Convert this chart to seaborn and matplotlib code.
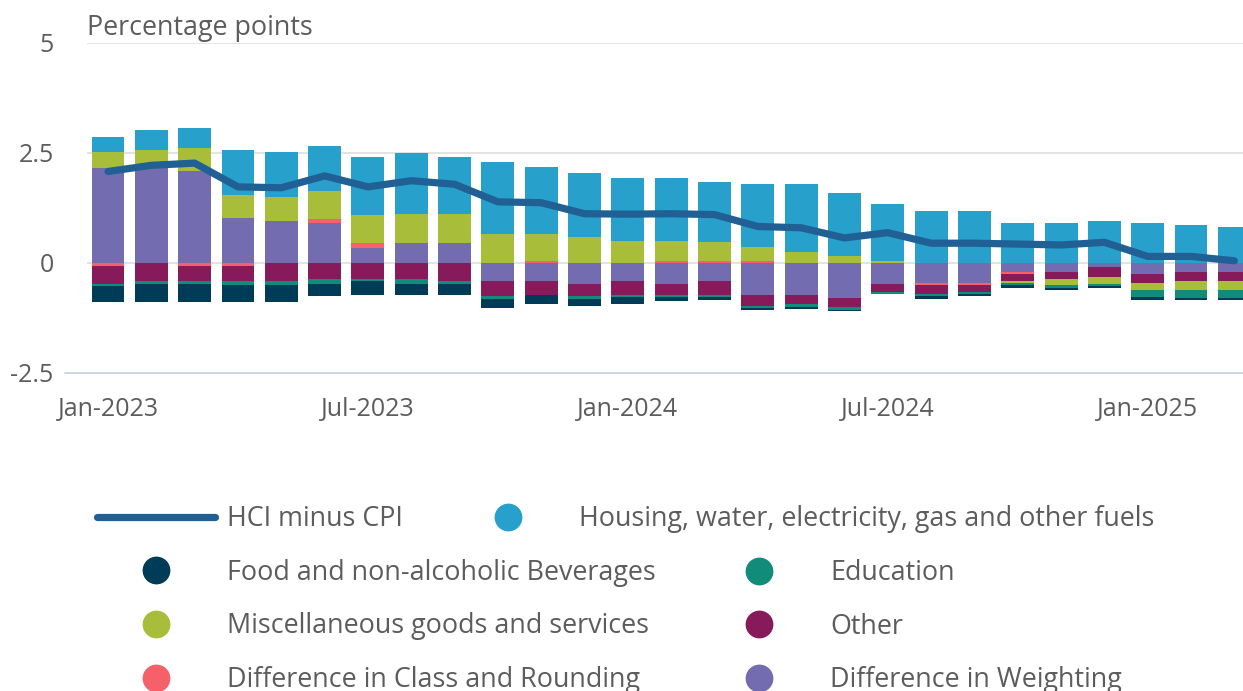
import numpy as np
import pandas as pd
import matplotlib.pyplot as plt
import seaborn as sns
from matplotlib.lines import Line2D

# monthly categories Jan-2023 .. Mar-2025
months = pd.date_range("2023-01-01", "2025-03-01", freq="MS").strftime("%b-%Y").tolist()

hci_minus_cpi = [2.08, 2.22, 2.27, 1.73, 1.71, 1.98, 1.73, 1.87, 1.79, 1.39, 1.37, 1.12, 1.11, 1.12,
                 1.10, 0.83, 0.80, 0.57, 0.69, 0.45, 0.45, 0.43, 0.41, 0.47, 0.15, 0.15, 0.05]
housing = [0.35, 0.46, 0.46, 1.02, 1.03, 1.03, 1.33, 1.38, 1.28, 1.63, 1.52, 1.44, 1.43, 1.44,
           1.37, 1.43, 1.53, 1.43, 1.28, 1.18, 1.18, 0.92, 0.92, 0.96, 0.92, 0.86, 0.81]
food = [-0.37, -0.41, -0.41, -0.37, -0.37, -0.29, -0.31, -0.25, -0.25, -0.21, -0.21, -0.16, -0.15, -0.10,
        -0.05, -0.05, -0.04, -0.02, 0.0, -0.05, -0.05, -0.05, -0.05, -0.05, -0.05, -0.05, -0.05]
education = [-0.05, -0.05, -0.05, -0.09, -0.09, -0.10, -0.06, -0.11, -0.05, -0.05, 0.0, -0.05, -0.05, -0.05,
             -0.05, -0.04, -0.06, -0.05, -0.06, -0.05, -0.05, -0.05, -0.05, -0.04, -0.17, -0.17, -0.17]
misc = [0.37, 0.40, 0.52, 0.52, 0.53, 0.63, 0.63, 0.67, 0.67, 0.67, 0.62, 0.60, 0.51, 0.45,
        0.42, 0.31, 0.26, 0.15, 0.05, 0.0, 0.0, -0.05, -0.15, -0.17, -0.15, -0.21, -0.21]
other = [-0.40, -0.42, -0.36, -0.36, -0.42, -0.37, -0.36, -0.36, -0.42, -0.34, -0.31, -0.29, -0.31, -0.25,
         -0.31, -0.25, -0.21, -0.22, -0.18, -0.20, -0.15, -0.15, -0.15, -0.21, -0.21, -0.20, -0.20]
class_rounding = [-0.07, 0.0, -0.06, -0.06, 0.0, 0.09, 0.10, 0.0, 0.0, 0.0, 0.05, 0.0, 0.0, 0.05,
                  0.05, 0.05, 0.0, 0.0, 0.0, -0.05, -0.05, -0.05, 0.0, 0.0, 0.0, 0.0, 0.0]
weighting = [2.15, 2.16, 2.09, 1.02, 0.96, 0.92, 0.35, 0.45, 0.45, -0.42, -0.42, -0.47, -0.42, -0.47,
             -0.42, -0.73, -0.73, -0.79, -0.47, -0.46, -0.46, -0.21, -0.21, -0.10, -0.25, -0.21, -0.21]

tick_months = ["Jan-2023", "Jul-2023", "Jan-2024", "Jul-2024", "Jan-2025"]

# stacked from zero outwards
stack = [
    ("Difference in Weighting", weighting, "#746cb1"),
    ("Difference in Class and Rounding", class_rounding, "#f66068"),
    ("Other", other, "#871a5b"),
    ("Miscellaneous goods and services", misc, "#a8bd3a"),
    ("Education", education, "#118c7b"),
    ("Food and non-alcoholic Beverages", food, "#003c57"),
    ("Housing, water, electricity, gas and other fuels", housing, "#27a0cc"),
]
colors = {name: c for name, _, c in stack}
line_color = "#206095"
text_color = "#5c5c5c"

sns.set_theme(style="white")
plt.rcParams["font.family"] = ["Open Sans", "DejaVu Sans"]

W, H = 1243, 691
fig = plt.figure(figsize=(W / 100, H / 100), dpi=100)
ax = fig.add_axes([87 / W, 1 - 373 / H, (W - 87) / W, 330 / H])

x = np.arange(len(months))
pos_base = np.zeros(len(x))
neg_base = np.zeros(len(x))
for name, vals, col in stack:
    v = np.array(vals)
    base = np.where(v >= 0, pos_base, neg_base)
    ax.bar(x, v, bottom=base, width=0.76, color=col, linewidth=0, zorder=2)
    pos_base += np.clip(v, 0, None)
    neg_base += np.clip(v, None, 0)

sns.lineplot(x=x, y=hci_minus_cpi, color=line_color, linewidth=5.2, ax=ax, zorder=3)

ax.set_xlim(-0.485, 26.2)
ax.set_ylim(-2.5, 5)
ax.set_yticks([-2.5, 0, 2.5, 5])
ax.set_yticklabels(["-2.5", "0", "2.5", "5"])
ax.set_xticks([months.index(m) for m in tick_months])
ax.set_xticklabels(tick_months)
ax.yaxis.grid(True, color="#e3e3e3", linewidth=1.4, zorder=0)
ax.set_axisbelow(True)
for s in ["top", "right", "left"]:
    ax.spines[s].set_visible(False)
ax.spines["bottom"].set_color("#ccd6eb")
ax.spines["bottom"].set_linewidth(1.4)
ax.tick_params(axis="y", length=0, pad=24, labelsize=18, labelcolor=text_color)
ax.tick_params(axis="x", length=7.5, width=1.4, color="#ccd6eb", pad=10, labelsize=18,
               labelcolor=text_color)
ax.set_xlabel("")
ax.set_ylabel("")
# axis line runs a little further left than the grid
fig.add_artist(Line2D([65 / W, 87 / W], [1 - 373 / H, 1 - 373 / H], color="#ccd6eb", lw=1.4))

fig.text(87 / W, 1 - 28 / H, "Percentage points", ha="left", va="center", fontsize=19.4,
         color=text_color)

fs = 19.4
def circ(c):
    return Line2D([], [], marker="o", linestyle="none", markersize=19, color=c)

common = dict(frameon=False, fontsize=fs, handlelength=4.38, handletextpad=0.45, borderpad=0,
              borderaxespad=0, labelspacing=0.955, labelcolor=text_color, loc="upper left")

col1 = ["Food and non-alcoholic Beverages", "Miscellaneous goods and services",
        "Difference in Class and Rounding"]
leg1 = fig.legend([Line2D([], [], color=line_color, lw=5.2)] + [circ(colors[n]) for n in col1],
                  ["HCI minus CPI"] + col1, bbox_to_anchor=(97 / W, 1 - 505 / H), **common)
name_h = "Housing, water, electricity, gas and other fuels"
leg2 = fig.legend([circ(colors[name_h])], [name_h], bbox_to_anchor=(449 / W, 1 - 505 / H), **common)
col2 = ["Education", "Other", "Difference in Weighting"]
leg3 = fig.legend([circ(colors[n]) for n in col2], col2, bbox_to_anchor=(700 / W, 1 - 559 / H), **common)

fig.savefig("out.png", dpi=100)
